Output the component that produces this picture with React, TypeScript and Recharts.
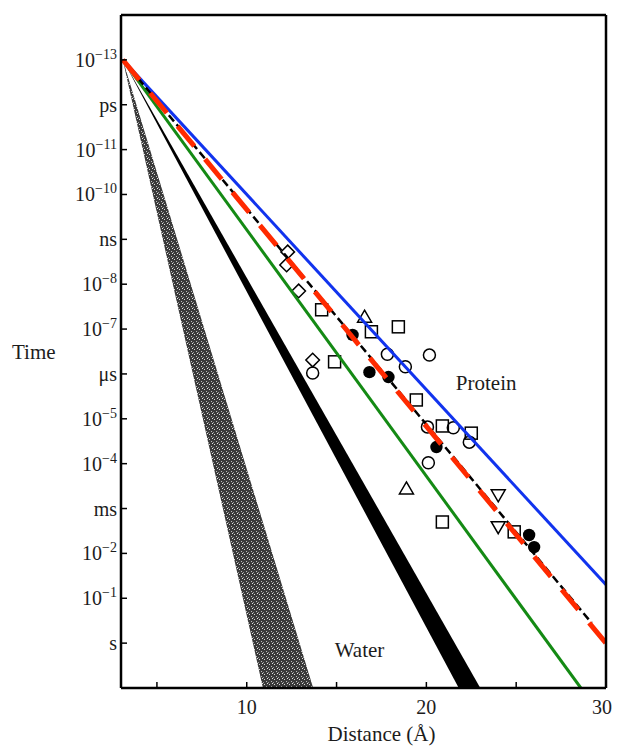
import { ComposedChart, Line, Area, Scatter, XAxis, YAxis, ReferenceDot } from 'recharts';

const SERIF = '"Liberation Serif", "DejaVu Serif", serif';
const INK = '#1c1c1c';

// y values are log10(time / s); the axis runs downward
const yTicks = [-13, -12, -11, -10, -9, -8, -7, -6, -5, -4, -3, -2, -1, 0];
const yTickUnits = [null, 'ps', null, null, 'ns', null, null, 'μs', null, null, 'ms', null, null, 's'];
const xTicks = [5, 10, 15, 20, 25, 30];
const xTickLabels = ['', '10', '', '20', '', '30'];

// straight decay lines (log time vs distance)
const blueLine = [{ d: 3.1, t: -13 }, { d: 30, t: -1.3 }];
const greenLine = [{ d: 3.1, t: -13 }, { d: 28.6, t: 1 }];
const redLine = [{ d: 3.1, t: -13 }, { d: 30, t: 0 }];
const blackDashLine = [{ d: 3.1, t: -13 }, { d: 29.2, t: -0.45 }];
const blackBand = [{ d: 3.1, t: [-13, -13] }, { d: 23.5, t: [1.35, 2.27] }];
const waterBand = [{ d: 3.1, t: [-13, -13] }, { d: 14, t: [1.4, 6.56] }];

// measured points
const diamondPts = [
  { d: 12.28, t: -8.72 }, { d: 12.22, t: -8.43 }, { d: 12.89, t: -7.85 }, { d: 13.67, t: -6.31 },
];
const squarePts = [
  { d: 14.17, t: -7.43 }, { d: 14.89, t: -6.27 }, { d: 16.94, t: -6.94 }, { d: 18.44, t: -7.05 },
  { d: 19.44, t: -5.42 }, { d: 20.89, t: -4.84 }, { d: 22.5, t: -4.68 }, { d: 20.89, t: -2.7 },
  { d: 24.89, t: -2.48 },
];
const circlePts = [
  { d: 13.67, t: -6.02 }, { d: 17.83, t: -6.44 }, { d: 20.17, t: -6.42 }, { d: 18.83, t: -6.16 },
  { d: 20.06, t: -4.82 }, { d: 21.5, t: -4.8 }, { d: 22.39, t: -4.48 }, { d: 20.11, t: -4.02 },
];
const filledPts = [
  { d: 15.89, t: -6.87 }, { d: 16.83, t: -6.04 }, { d: 17.89, t: -5.93 }, { d: 20.56, t: -4.37 },
  { d: 25.72, t: -2.41 }, { d: 26.0, t: -2.14 },
];
const triUpPts = [{ d: 16.56, t: -7.27 }, { d: 18.89, t: -3.44 }];
const triDownPts = [{ d: 24.0, t: -3.3 }, { d: 24.0, t: -2.59 }];

const mk = { fill: 'none', stroke: '#000', strokeWidth: 1.5 };

const Circle = ({ cx, cy }: any) => <circle cx={cx} cy={cy} r={6} {...mk} />;
const Dot = ({ cx, cy }: any) => <circle cx={cx} cy={cy} r={6.2} fill="#000" />;
const Square = ({ cx, cy }: any) => <rect x={cx - 6} y={cy - 6} width={12} height={12} {...mk} />;
const Diamond = ({ cx, cy }: any) => (
  <path d={`M${cx},${cy - 6.8}L${cx + 6.8},${cy}L${cx},${cy + 6.8}L${cx - 6.8},${cy}Z`} {...mk} />
);
const TriUp = ({ cx, cy }: any) => (
  <path d={`M${cx},${cy - 6.8}L${cx + 7},${cy + 5.2}L${cx - 7},${cy + 5.2}Z`} {...mk} />
);
const TriDown = ({ cx, cy }: any) => (
  <path d={`M${cx},${cy + 6.8}L${cx + 7},${cy - 5.2}L${cx - 7},${cy - 5.2}Z`} {...mk} />
);

function TimeTick({ x, y, payload }: any) {
  const i = yTicks.indexOf(payload.value);
  const unit = yTickUnits[i];
  return (
    <text x={x} y={y + 7} textAnchor="end" fontFamily={SERIF} fontSize={20} fill={INK}>
      {unit ?? (
        <>
          10<tspan dy={-8} fontSize={14}>−{Math.abs(payload.value)}</tspan>
        </>
      )}
    </text>
  );
}

function DistTick({ x, y, payload, index }: any) {
  const label = xTickLabels[xTicks.indexOf(payload.value)];
  if (!label) return null;
  // last label sits on the right frame edge; nudge it so it stays inside the picture
  const last = index === xTicks.length - 1;
  return (
    <text x={last ? x - 4 : x} y={y + 7} textAnchor="middle" fontFamily={SERIF} fontSize={20} fill={INK}>
      {label}
    </text>
  );
}

function DistLabel({ viewBox }: any) {
  return (
    <text
      x={viewBox.x + viewBox.width / 2 + 18}
      y={viewBox.y + 53}
      textAnchor="middle"
      fontFamily={SERIF}
      fontSize={21}
      fill={INK}
    >
      Distance (Å)
    </text>
  );
}

function TimeLabel({ viewBox }: any) {
  return (
    <text x={viewBox.x + 4} y={viewBox.y + viewBox.height / 2 + 7} fontFamily={SERIF} fontSize={21} fill={INK}>
      Time
    </text>
  );
}

const axisLine = { stroke: '#000', strokeWidth: 2.5 };
const tickLine = { stroke: '#000', strokeWidth: 1.5 };

export default function App() {
  return (
    <ComposedChart width={605} height={739} margin={{ top: 2, right: 2, bottom: 0, left: 0 }}>
      <defs>
        <pattern id="stipple" width="5" height="5" patternUnits="userSpaceOnUse">
          <rect width="5" height="5" fill="#3a3a3a" />
          <rect x="1" y="1" width="1" height="1" fill="#d8d8d8" />
          <rect x="3" y="3" width="1" height="1" fill="#bcbcbc" />
          <rect x="4" y="0" width="1" height="1" fill="#e6e6e6" />
          <rect x="0" y="4" width="1" height="1" fill="#9a9a9a" />
        </pattern>
      </defs>
      <XAxis
        dataKey="d"
        type="number"
        domain={[3, 30]}
        allowDataOverflow
        ticks={xTicks}
        interval={0}
        height={59}
        tickSize={-6}
        tickMargin={25}
        tick={<DistTick />}
        axisLine={axisLine}
        tickLine={tickLine}
        label={<DistLabel />}
      />
      <XAxis
        xAxisId="top"
        orientation="top"
        type="number"
        domain={[3, 30]}
        ticks={xTicks}
        interval={0}
        height={5}
        tickSize={-6}
        tick={false}
        axisLine={axisLine}
        tickLine={tickLine}
      />
      <YAxis
        type="number"
        domain={[-14, 1]}
        reversed
        allowDataOverflow
        ticks={yTicks}
        interval={0}
        width={113}
        tickSize={-6}
        tickMargin={10}
        tick={<TimeTick />}
        axisLine={axisLine}
        tickLine={tickLine}
        label={<TimeLabel />}
      />
      <YAxis
        yAxisId="right"
        orientation="right"
        type="number"
        domain={[-14, 1]}
        reversed
        ticks={yTicks}
        interval={0}
        width={5}
        tickSize={-6}
        tick={false}
        axisLine={axisLine}
        tickLine={tickLine}
      />

      <Area data={waterBand} dataKey="t" type="linear" stroke="none" fill="url(#stipple)" fillOpacity={1} isAnimationActive={false} />
      <Area data={blackBand} dataKey="t" type="linear" stroke="none" fill="#000" fillOpacity={1} isAnimationActive={false} />

      <Scatter data={circlePts} dataKey="t" shape={Circle} zIndex={350} isAnimationActive={false} />
      <Scatter data={squarePts} dataKey="t" shape={Square} zIndex={350} isAnimationActive={false} />
      <Scatter data={diamondPts} dataKey="t" shape={Diamond} zIndex={350} isAnimationActive={false} />
      <Scatter data={triUpPts} dataKey="t" shape={TriUp} zIndex={350} isAnimationActive={false} />
      <Scatter data={triDownPts} dataKey="t" shape={TriDown} zIndex={350} isAnimationActive={false} />
      <Scatter data={filledPts} dataKey="t" shape={Dot} zIndex={350} isAnimationActive={false} />

      <Line data={greenLine} dataKey="t" type="linear" stroke="#148a14" strokeWidth={3} dot={false} activeDot={false} isAnimationActive={false} />
      <Line data={blueLine} dataKey="t" type="linear" stroke="#1133ee" strokeWidth={3} dot={false} activeDot={false} isAnimationActive={false} />
      <Line data={blackDashLine} dataKey="t" type="linear" stroke="#000" strokeWidth={2.5} strokeDasharray="8 4" dot={false} activeDot={false} isAnimationActive={false} />
      <Line data={redLine} dataKey="t" type="linear" stroke="#ff2a00" strokeWidth={5} strokeDasharray="26 17" dot={false} activeDot={false} isAnimationActive={false} />

      <ReferenceDot x={23.33} y={-5.8} r={0} stroke="none" fill="none" label={{ value: 'Protein', position: 'center', fontSize: 21, fontFamily: SERIF, fill: INK }} />
      <ReferenceDot x={16.28} y={0.15} r={0} stroke="none" fill="none" label={{ value: 'Water', position: 'center', fontSize: 21, fontFamily: SERIF, fill: INK }} />
    </ComposedChart>
  );
}
